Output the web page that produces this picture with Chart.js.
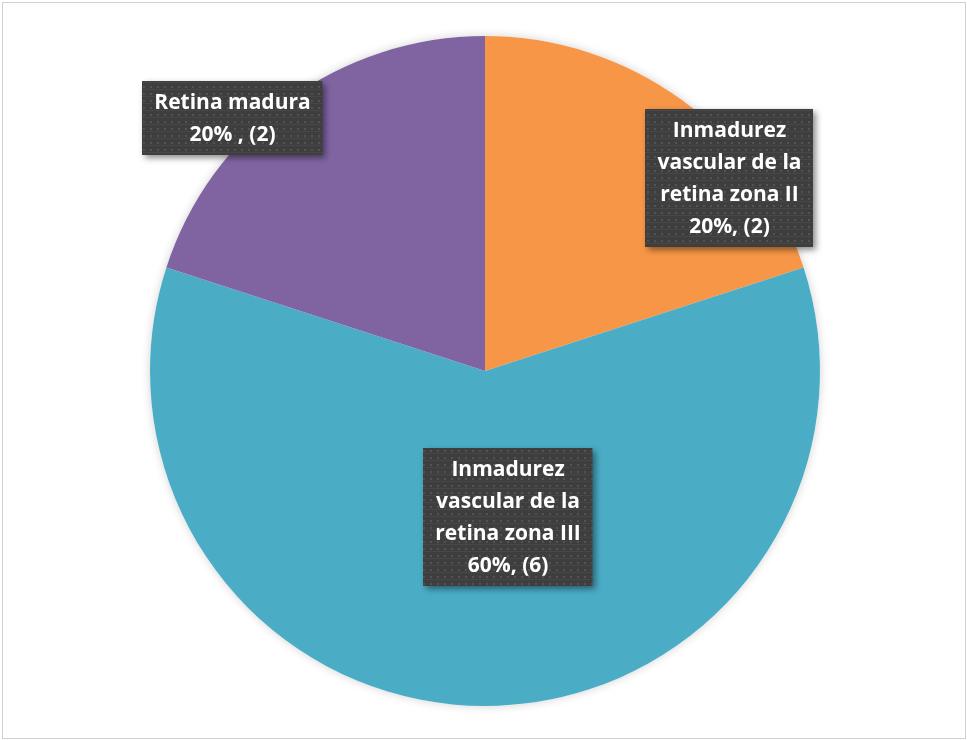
<!DOCTYPE html>
<html lang="es">
<head>
<meta charset="UTF-8">
<title>Distribución por estado de la retina</title>
<script src="https://cdn.jsdelivr.net/npm/chart.js"></script>
<style>
    html, body { margin: 0; padding: 0; background: #fff; }
    #chart-container { width: 967px; height: 740px; }
</style>
</head>
<body>
<div id="chart-container">
    <canvas id="pieChart" width="967" height="740"></canvas>
</div>
<script>
// Datos del gráfico (orden horario desde las 12)
const categorias = [
    ['Inmadurez', 'vascular de la', 'retina zona II'],
    ['Inmadurez', 'vascular de la', 'retina zona III'],
    ['Retina madura']
];
const casos = [2, 6, 2];
const porcentajes = ['20%, (2)', '60%, (6)', '20% , (2)'];
const colores = ['#F79646', '#4BACC6', '#8064A2'];

// Ubicación de cada etiqueta: ángulo (grados, horario desde arriba) y fracción del radio
const etiquetaAngulo = [51.7, 171, 315];
const etiquetaRadio = [0.93, 0.44, 1.066];

// Textura punteada del fondo de las etiquetas
function crearTextura(ctx) {
    const t = document.createElement('canvas');
    t.width = 7; t.height = 7;
    const c = t.getContext('2d');
    c.fillStyle = '#3e3e3e';
    c.fillRect(0, 0, 7, 7);
    c.fillStyle = '#474747';
    c.fillRect(0, 5, 7, 1);
    c.fillStyle = '#535353';
    c.fillRect(3, 2, 2, 2);
    return ctx.createPattern(t, 'repeat');
}

const marcoYSombra = {
    id: 'marcoYSombra',
    beforeDraw(chart) {
        const ctx = chart.ctx;
        ctx.save();
        ctx.fillStyle = '#fff';
        ctx.fillRect(0, 0, chart.width, chart.height);
        ctx.strokeStyle = '#d0d0d0';
        ctx.lineWidth = 1;
        ctx.strokeRect(2.5, 2.5, chart.width - 4, chart.height - 4);
        ctx.restore();
    },
    beforeDatasetsDraw(chart) {
        const arc = chart.getDatasetMeta(0).data[0];
        if (!arc) return;
        const ctx = chart.ctx;
        ctx.save();
        ctx.shadowColor = 'rgba(0,0,0,0.18)';
        ctx.shadowBlur = 10;
        ctx.beginPath();
        ctx.arc(arc.x, arc.y, arc.outerRadius, 0, Math.PI * 2);
        ctx.fillStyle = '#fff';
        ctx.fill();
        ctx.restore();
    }
};

const etiquetas = {
    id: 'etiquetas',
    afterDatasetsDraw(chart) {
        const ctx = chart.ctx;
        const meta = chart.getDatasetMeta(0);
        const textura = crearTextura(ctx);
        const alto = 32;
        ctx.save();
        ctx.font = 'bold 21px "Open Sans", Lato, sans-serif';
        ctx.textAlign = 'center';
        ctx.textBaseline = 'middle';
        meta.data.forEach((arc, i) => {
            const lineas = categorias[i].concat([porcentajes[i]]);
            const ang = etiquetaAngulo[i] * Math.PI / 180;
            const r = arc.outerRadius * etiquetaRadio[i];
            const cx = arc.x + Math.sin(ang) * r;
            const cy = arc.y - Math.cos(ang) * r;
            const ancho = Math.max(...lineas.map(l => ctx.measureText(l).width)) + 24;
            const h = lineas.length * alto + 10;
            const x0 = Math.round(cx - ancho / 2);
            const y0 = Math.round(cy - h / 2);

            ctx.save();
            ctx.shadowColor = 'rgba(0,0,0,0.45)';
            ctx.shadowBlur = 6;
            ctx.shadowOffsetX = 3;
            ctx.shadowOffsetY = 3;
            ctx.fillStyle = textura;
            ctx.fillRect(x0, y0, ancho, h);
            ctx.restore();

            ctx.fillStyle = '#ffffff';
            lineas.forEach((l, k) => {
                ctx.fillText(l, cx, y0 + 6 + alto * k + alto / 2);
            });
        });
        ctx.restore();
    }
};

const ctx = document.getElementById('pieChart').getContext('2d');
new Chart(ctx, {
    type: 'pie',
    data: {
        labels: categorias.map(c => c.join(' ')),
        datasets: [{
            data: casos,
            backgroundColor: colores,
            borderWidth: 0
        }]
    },
    options: {
        responsive: false,
        animation: false,
        layout: { padding: { left: 150, right: 147, top: 36, bottom: 34 } },
        plugins: {
            legend: { display: false },
            tooltip: { enabled: false }
        }
    },
    plugins: [marcoYSombra, etiquetas]
});
</script>
</body>
</html>
